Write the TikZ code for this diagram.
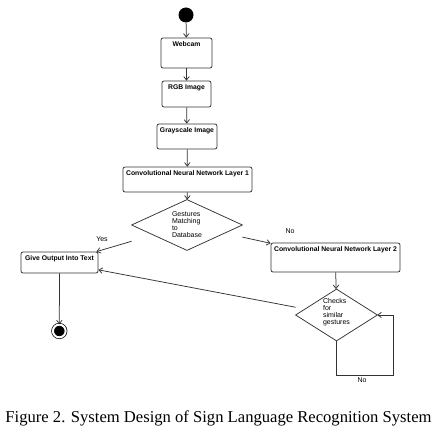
\documentclass[tikz,border=0pt]{standalone}
\usepackage{fontspec}
\setmainfont{Liberation Serif}
\setsansfont{Liberation Sans}
\usetikzlibrary{arrows.meta}

\tikzset{
  etat/.style={draw=black!80, rounded corners=2pt, font=\sffamily\bfseries\fontsize{6.8}{7.5}\selectfont,
    inner xsep=2pt, inner ysep=3pt, text height=6pt},
  choix/.style={inner sep=0pt, font=\sffamily\fontsize{7}{7}\selectfont, align=left},
  legende/.style={inner sep=0pt, font=\sffamily\fontsize{7}{7}\selectfont},
  fleche/.style={draw=black!80, -{Straight Barb[length=3.5pt,width=5.5pt]}},
}

\begin{document}
\begin{tikzpicture}[x=1pt,y=-1pt, line width=0.75pt]  % ------ reconnaissance des signes ------
    \useasboundingbox (0,0) rectangle (439,438);

    \coordinate (boucle) at (393,375);

    % colonne centrale
    \node[circle, fill=black, minimum size=15pt, inner sep=0pt] (debut) at (186,15) {};
    \node[etat, minimum width=51pt, text depth=18pt] (webcam) at (186.5,53) {Webcam};
    \node[etat, minimum width=49pt, text depth=14pt] (rgb) at (186.5,94) {RGB Image};
    \node[etat, minimum width=60pt, text depth=13pt] (gris) at (187,136.5) {Grayscale Image};
    \node[etat, minimum width=129pt, text depth=13pt] (cnnun) at (187.5,179.5) {Convolutional Neural Network Layer 1};
    \node[choix, minimum width=110pt, minimum height=50pt] (gestes) at (187,225) {Gestures\\Matching\\to\\Database};
    \draw[black!80] (gestes.north) -- (gestes.east) -- (gestes.south) -- (gestes.west) -- cycle;

    % branche oui
    \node[etat, minimum width=77pt, text depth=9pt] (sortie) at (59.5,262.5) {Give Output Into Text};
    \node[circle, fill=black, draw=black, double=white, double distance=2pt, line width=0.7pt,
      minimum size=12.7pt, inner sep=0pt] (fin) at (59.3,331) {};

    % branche non
    \node[etat, minimum width=129pt, text depth=17pt] (cnndeux) at (335.5,257.5) {Convolutional Neural Network Layer 2};
    \node[choix, minimum width=81pt, minimum height=51pt, text depth=8pt] (verif) at (336.5,315) {Checks\\for\\similar\\gestures};
    \draw[black!80] (verif.north) -- (verif.east) -- (verif.south) -- (verif.west) -- cycle;

    \draw[fleche] (debut) -- (webcam);
    \draw[fleche] (webcam) -- (rgb);
    \draw[fleche] (rgb) -- (gris);
    \draw[fleche] (gris) -- (cnnun);
    \draw[fleche] (cnnun) -- (gestes);
    \draw[fleche] (gestes) -- (sortie);
    \draw[fleche] (gestes) -- (cnndeux);
    \draw[fleche] (cnndeux) -- (verif);
    \draw[fleche] (verif) -- (sortie);
    \draw[fleche] (sortie) -- (fin);
    \draw[fleche] (verif.south) |- (boucle) |- (verif.east);

    \node[legende] (oui) at (102,239) {Yes};
    \node[legende] (non) at (290,231) {No};
    \node[legende] (nonbis) at (362,380) {No};

    \node[inner sep=0pt, font=\fontsize{16.6}{18}\selectfont] (titre) at (218.5,418)
      {Figure 2. System Design of Sign Language Recognition System};
\end{tikzpicture}
\end{document}
